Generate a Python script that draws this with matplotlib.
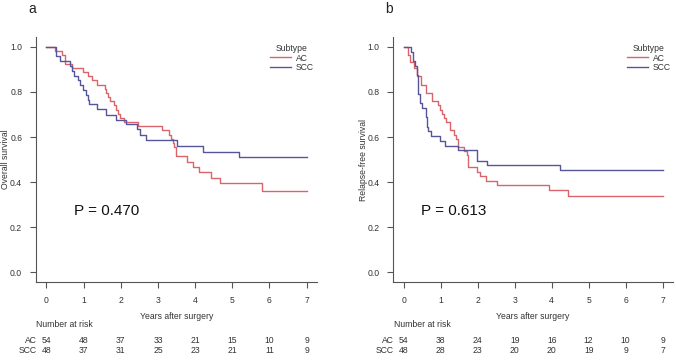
import matplotlib
matplotlib.use("Agg")
import matplotlib.pyplot as plt
from matplotlib.transforms import blended_transform_factory

plt.rcParams["font.family"] = ["Liberation Sans", "DejaVu Sans"]

# Panel a: overall survival (step times in years, survival after each step)
os_ac_t = [0, 0.24, 0.42, 0.49, 0.69, 0.99, 1.11, 1.23, 1.36, 1.57, 1.61, 1.65, 1.70,
           1.82, 1.87, 1.92, 1.97, 2.08, 2.46, 3.11, 3.29, 3.36, 3.40, 3.44, 3.48,
           3.78, 3.94, 4.11, 4.43, 4.67, 5.79, 7.0]
os_ac_s = [1.0, 0.981, 0.963, 0.926, 0.907, 0.889, 0.870, 0.852, 0.833, 0.815, 0.796,
           0.778, 0.759, 0.741, 0.722, 0.704, 0.685, 0.667, 0.648, 0.630, 0.611, 0.593,
           0.574, 0.556, 0.515, 0.490, 0.469, 0.444, 0.419, 0.395, 0.362, 0.362]
os_scc_t = [0, 0.25, 0.36, 0.64, 0.69, 0.75, 0.84, 0.91, 0.99, 1.06, 1.11, 1.15, 1.35,
            1.59, 1.88, 2.15, 2.43, 2.52, 2.68, 3.51, 4.21, 5.19, 7.0]
os_scc_s = [1.0, 0.958, 0.936, 0.915, 0.894, 0.872, 0.851, 0.830, 0.809, 0.787, 0.766,
            0.745, 0.723, 0.698, 0.677, 0.656, 0.634, 0.610, 0.586, 0.561, 0.534, 0.511,
            0.511]

# Panel b: relapse-free survival
rfs_ac_t = [0, 0.13, 0.18, 0.29, 0.36, 0.48, 0.61, 0.76, 0.92, 0.99, 1.04, 1.08, 1.15,
            1.26, 1.35, 1.42, 1.48, 1.62, 1.70, 1.75, 1.97, 2.06, 2.23, 2.51, 3.92,
            4.44, 7.0]
rfs_ac_s = [1.0, 0.963, 0.931, 0.907, 0.870, 0.833, 0.796, 0.759, 0.740, 0.722, 0.704,
            0.685, 0.667, 0.630, 0.611, 0.593, 0.556, 0.537, 0.520, 0.465, 0.444, 0.427,
            0.406, 0.389, 0.366, 0.340, 0.340]
rfs_scc_t = [0, 0.21, 0.25, 0.30, 0.36, 0.39, 0.40, 0.43, 0.49, 0.61, 0.64, 0.67, 0.74,
             0.99, 1.12, 1.48, 1.99, 2.24, 4.22, 7.0]
rfs_scc_s = [1.0, 0.979, 0.938, 0.917, 0.875, 0.833, 0.792, 0.750, 0.729, 0.688, 0.646,
             0.625, 0.604, 0.583, 0.562, 0.541, 0.495, 0.474, 0.452, 0.452]

years = [0, 1, 2, 3, 4, 5, 6, 7]
risk_os_ac = [54, 48, 37, 33, 21, 15, 10, 9]
risk_os_scc = [48, 37, 31, 25, 23, 21, 11, 9]
risk_rfs_ac = [54, 38, 24, 19, 16, 12, 10, 9]
risk_rfs_scc = [48, 28, 23, 20, 20, 19, 9, 7]

RED = "#d9646c"
BLUE = "#55559a"
AX = "#555555"
TXT = "#333333"
FS = 6.2

fig = plt.figure(figsize=(6.76, 3.63), dpi=100)


def panel(left, right, letter, ylabel, ac_t, ac_s, scc_t, scc_s, pval, px,
          risk_ac, risk_scc, leg_px):
    w = right - left
    ax = fig.add_axes([left, 0.2231, w, 0.6749])
    ax.step(ac_t, ac_s, where="post", color=RED, lw=1.0, label="AC")
    ax.step(scc_t, scc_s, where="post", color=BLUE, lw=1.0, label="SCC")
    ax.set_xlim(-0.28, 7.28)
    ax.set_ylim(-0.044, 1.044)
    ax.set_xticks(years)
    ax.set_yticks([0, 0.2, 0.4, 0.6, 0.8, 1.0])
    ax.set_yticklabels(["0.0", "0.2", "0.4", "0.6", "0.8", "1.0"])
    for s in ["top", "right"]:
        ax.spines[s].set_visible(False)
    for s in ["left", "bottom"]:
        ax.spines[s].set_color(AX)
        ax.spines[s].set_linewidth(0.8)
    ax.tick_params(colors=AX, labelcolor=TXT, labelsize=FS, length=4, width=0.8, pad=6)
    ax.set_xlabel("Years after surgery", fontsize=FS, color=TXT, labelpad=5)
    ax.set_ylabel(ylabel, fontsize=FS, color=TXT)
    ax.yaxis.set_label_coords(-0.092, 0.5)
    ax.text(px, 0.27, pval, fontsize=11, va="center", ha="left", color="#111111")
    x_leg = (leg_px - left * 676) / (w * 676)
    leg = ax.legend(title="Subtype", loc="upper left", bbox_to_anchor=(x_leg, 0.973),
                    frameon=False, fontsize=FS, title_fontsize=FS, handlelength=2.4,
                    handletextpad=0.6, labelspacing=0.1, borderaxespad=0, borderpad=0,
                    labelcolor=TXT)
    leg.get_title().set_color(TXT)
    fig.text(left - 8 / 676, 0.975, letter, fontsize=10, va="center", ha="left",
             color="#222222")
    tr = blended_transform_factory(ax.transData, fig.transFigure)
    ax.text(-0.27, 1 - 324.3 / 363, "Number at risk", transform=tr, fontsize=FS,
            ha="left", va="center", color=TXT, clip_on=False)
    for name, risk, yp in [("AC", risk_ac, 340.3), ("SCC", risk_scc, 350.7)]:
        ax.text(-0.27, 1 - yp / 363, name, transform=tr, fontsize=FS, ha="right",
                va="center", color=TXT, clip_on=False)
        for x, n in zip(years, risk):
            ax.text(x, 1 - yp / 363, str(n), transform=tr, fontsize=FS, ha="center",
                    va="center", color=TXT, clip_on=False)
    return ax


panel(0.0533, 0.469, "a", "Overall survival", os_ac_t, os_ac_s, os_scc_t, os_scc_s,
      "P = 0.470", 0.75, risk_os_ac, risk_os_scc, 270)
panel(0.5818, 0.9956, "b", "Relapse-free survival", rfs_ac_t, rfs_ac_s, rfs_scc_t, rfs_scc_s,
      "P = 0.613", 0.47, risk_rfs_ac, risk_rfs_scc, 627)

fig.savefig("out.png", dpi=100)
